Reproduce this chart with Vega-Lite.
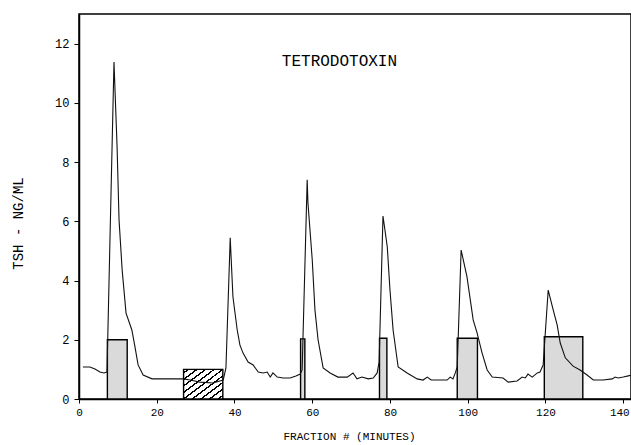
{
  "$schema": "https://vega.github.io/schema/vega-lite/v6.json",
  "width": 552,
  "height": 385,
  "autosize": {"type": "none"},
  "padding": {"left": 79, "top": 14, "right": 0, "bottom": 46},
  "background": "white",
  "config": {
    "view": {"stroke": "black", "strokeWidth": 1.5},
    "font": "Liberation Mono",
    "axis": {"grid": false, "domainColor": "black", "domainWidth": 1.5, "tickColor": "black", "labelColor": "black", "titleColor": "black", "labelFont": "Liberation Mono", "titleFont": "Liberation Mono", "titleFontWeight": "normal"}
  },
  "datasets": {
    "trace": [
      {"t": 1.0, "tsh": 1.08}, {"t": 2.8, "tsh": 1.08}, {"t": 4.1, "tsh": 1.01}, {"t": 5.4, "tsh": 0.91},
      {"t": 6.4, "tsh": 0.88}, {"t": 7.2, "tsh": 0.91}, {"t": 9.0, "tsh": 11.38}, {"t": 9.8, "tsh": 8.5},
      {"t": 10.3, "tsh": 6.05}, {"t": 11.1, "tsh": 4.36}, {"t": 12.1, "tsh": 2.9}, {"t": 13.6, "tsh": 2.33},
      {"t": 14.4, "tsh": 1.76}, {"t": 15.2, "tsh": 1.15}, {"t": 16.5, "tsh": 0.81}, {"t": 18.8, "tsh": 0.68},
      {"t": 26.8, "tsh": 0.68}, {"t": 28.6, "tsh": 0.64}, {"t": 31.1, "tsh": 0.57}, {"t": 34.5, "tsh": 0.54},
      {"t": 37.1, "tsh": 0.64}, {"t": 37.8, "tsh": 1.05}, {"t": 38.9, "tsh": 5.44}, {"t": 39.6, "tsh": 3.45},
      {"t": 40.7, "tsh": 2.33}, {"t": 41.4, "tsh": 1.82}, {"t": 42.2, "tsh": 1.55}, {"t": 43.5, "tsh": 1.25},
      {"t": 44.8, "tsh": 1.15}, {"t": 46.1, "tsh": 0.91}, {"t": 47.4, "tsh": 0.88}, {"t": 48.4, "tsh": 0.91},
      {"t": 49.2, "tsh": 0.74}, {"t": 49.9, "tsh": 0.88}, {"t": 51.0, "tsh": 0.74}, {"t": 52.5, "tsh": 0.71},
      {"t": 54.3, "tsh": 0.71}, {"t": 55.8, "tsh": 0.78}, {"t": 56.9, "tsh": 0.84}, {"t": 57.4, "tsh": 0.98},
      {"t": 58.7, "tsh": 7.4}, {"t": 58.9, "tsh": 6.62}, {"t": 60.0, "tsh": 4.7}, {"t": 60.7, "tsh": 3.0},
      {"t": 61.5, "tsh": 2.0}, {"t": 62.8, "tsh": 1.05}, {"t": 64.6, "tsh": 0.88}, {"t": 66.6, "tsh": 0.74},
      {"t": 69.0, "tsh": 0.74}, {"t": 70.5, "tsh": 0.88}, {"t": 71.5, "tsh": 0.68}, {"t": 72.8, "tsh": 0.74},
      {"t": 74.4, "tsh": 0.68}, {"t": 75.7, "tsh": 0.71}, {"t": 76.7, "tsh": 0.88}, {"t": 77.2, "tsh": 1.25},
      {"t": 78.2, "tsh": 6.18}, {"t": 79.3, "tsh": 5.14}, {"t": 80.0, "tsh": 3.68}, {"t": 80.8, "tsh": 2.33},
      {"t": 82.1, "tsh": 1.08}, {"t": 84.4, "tsh": 0.88}, {"t": 87.0, "tsh": 0.68}, {"t": 88.5, "tsh": 0.64},
      {"t": 89.6, "tsh": 0.74}, {"t": 90.6, "tsh": 0.64}, {"t": 94.7, "tsh": 0.64}, {"t": 95.5, "tsh": 0.74},
      {"t": 96.2, "tsh": 0.68}, {"t": 96.8, "tsh": 0.88}, {"t": 97.3, "tsh": 1.08}, {"t": 98.3, "tsh": 5.03},
      {"t": 99.8, "tsh": 4.13}, {"t": 101.4, "tsh": 2.67}, {"t": 102.4, "tsh": 2.23}, {"t": 103.7, "tsh": 1.55},
      {"t": 105.0, "tsh": 0.98}, {"t": 106.3, "tsh": 0.74}, {"t": 109.1, "tsh": 0.71}, {"t": 110.4, "tsh": 0.57},
      {"t": 112.7, "tsh": 0.61}, {"t": 114.0, "tsh": 0.74}, {"t": 114.8, "tsh": 0.71}, {"t": 115.5, "tsh": 0.84},
      {"t": 116.6, "tsh": 0.74}, {"t": 117.9, "tsh": 0.88}, {"t": 118.6, "tsh": 0.91}, {"t": 119.4, "tsh": 1.15},
      {"t": 120.7, "tsh": 3.68}, {"t": 122.0, "tsh": 3.0}, {"t": 123.0, "tsh": 2.5}, {"t": 123.8, "tsh": 1.89},
      {"t": 125.1, "tsh": 1.39}, {"t": 127.1, "tsh": 1.11}, {"t": 128.9, "tsh": 0.98}, {"t": 130.7, "tsh": 0.81},
      {"t": 132.3, "tsh": 0.64}, {"t": 134.8, "tsh": 0.64}, {"t": 137.2, "tsh": 0.68}, {"t": 137.9, "tsh": 0.74},
      {"t": 138.7, "tsh": 0.71}, {"t": 140.0, "tsh": 0.74}, {"t": 141.3, "tsh": 0.78}, {"t": 142.3, "tsh": 0.81}
    ],
    "boxes": [
      {"start": 7.3, "end": 12.4, "level": 2.0, "pattern": "dots"},
      {"start": 26.9, "end": 37.0, "level": 1.0, "pattern": "hatch"},
      {"start": 57.0, "end": 58.1, "level": 2.03, "pattern": "dots"},
      {"start": 77.3, "end": 79.2, "level": 2.05, "pattern": "dots"},
      {"start": 97.3, "end": 102.5, "level": 2.05, "pattern": "dots"},
      {"start": 119.7, "end": 129.6, "level": 2.1, "pattern": "dots"}
    ],
    "note": [{"label": "TETRODOTOXIN"}]
  },
  "layer": [
    {
      "data": {"name": "boxes"},
      "transform": [{"filter": "datum.pattern == 'dots'"}],
      "mark": {"type": "rect", "fill": "#dadada", "stroke": "black", "strokeWidth": 1.4},
      "encoding": {
        "x": {"field": "start", "type": "quantitative", "scale": {"domain": [0, 142], "nice": false, "zero": false},
          "axis": {"values": [0, 10, 20, 30, 40, 50, 60, 70, 80, 90, 100, 110, 120, 130, 140],
            "labelExpr": "datum.value % 20 == 0 ? datum.label : ''", "tickSize": 4, "labelFontSize": 11, "labelPadding": 3,
            "labelAlign": {"condition": {"test": "datum.value == 140", "value": "right"}, "value": "center"},
            "labelOffset": {"condition": {"test": "datum.value == 140", "value": 6}, "value": 0},
            "labelBound": false,
            "title": "FRACTION # (MINUTES)", "titleFontSize": 11, "titleX": 270, "titleY": 37, "titleBaseline": "middle"}},
        "x2": {"field": "end"},
        "y": {"field": "level", "type": "quantitative", "scale": {"domain": [0, 13], "nice": false},
          "axis": {"values": [0, 1, 2, 3, 4, 5, 6, 7, 8, 9, 10, 11, 12, 13],
            "labelExpr": "datum.value % 2 == 0 && datum.value <= 12 ? datum.label : ''", "tickSize": 5, "labelFontSize": 12, "labelPadding": 5,
            "title": "TSH - NG/ML", "titleFontSize": 14, "titleX": -61, "titleY": 209, "titleAngle": 270, "titleBaseline": "middle", "titleAlign": "center"}},
        "y2": {"datum": 0}
      }
    },
    {
      "data": {"name": "boxes"},
      "transform": [{"filter": "datum.pattern == 'hatch'"}],
      "mark": {"type": "rect", "stroke": "black", "strokeWidth": 1.4,
        "fill": {"gradient": "linear", "x1": 0, "y1": 0, "x2": 1, "y2": 1, "stops": [
          {"offset": 0, "color": "white"},
          {"offset": 0.046, "color": "white"}, {"offset": 0.046, "color": "black"}, {"offset": 0.074, "color": "black"}, {"offset": 0.074, "color": "white"},
          {"offset": 0.156, "color": "white"}, {"offset": 0.156, "color": "black"}, {"offset": 0.184, "color": "black"}, {"offset": 0.184, "color": "white"},
          {"offset": 0.266, "color": "white"}, {"offset": 0.266, "color": "black"}, {"offset": 0.294, "color": "black"}, {"offset": 0.294, "color": "white"},
          {"offset": 0.376, "color": "white"}, {"offset": 0.376, "color": "black"}, {"offset": 0.404, "color": "black"}, {"offset": 0.404, "color": "white"},
          {"offset": 0.486, "color": "white"}, {"offset": 0.486, "color": "black"}, {"offset": 0.514, "color": "black"}, {"offset": 0.514, "color": "white"},
          {"offset": 0.596, "color": "white"}, {"offset": 0.596, "color": "black"}, {"offset": 0.624, "color": "black"}, {"offset": 0.624, "color": "white"},
          {"offset": 0.706, "color": "white"}, {"offset": 0.706, "color": "black"}, {"offset": 0.734, "color": "black"}, {"offset": 0.734, "color": "white"},
          {"offset": 0.816, "color": "white"}, {"offset": 0.816, "color": "black"}, {"offset": 0.844, "color": "black"}, {"offset": 0.844, "color": "white"},
          {"offset": 0.926, "color": "white"}, {"offset": 0.926, "color": "black"}, {"offset": 0.954, "color": "black"}, {"offset": 0.954, "color": "white"},
          {"offset": 1, "color": "white"}
        ]}},
      "encoding": {
        "x": {"field": "start", "type": "quantitative"},
        "x2": {"field": "end"},
        "y": {"field": "level", "type": "quantitative"},
        "y2": {"datum": 0}
      }
    },
    {
      "data": {"name": "trace"},
      "mark": {"type": "line", "color": "#111111", "strokeWidth": 1.1, "clip": true},
      "encoding": {
        "x": {"field": "t", "type": "quantitative"},
        "y": {"field": "tsh", "type": "quantitative"}
      }
    },
    {
      "data": {"name": "note"},
      "mark": {"type": "text", "font": "Liberation Mono", "fontSize": 16, "color": "black", "align": "center", "baseline": "middle"},
      "encoding": {
        "text": {"field": "label"},
        "x": {"datum": 67},
        "y": {"datum": 11.4}
      }
    }
  ]
}
